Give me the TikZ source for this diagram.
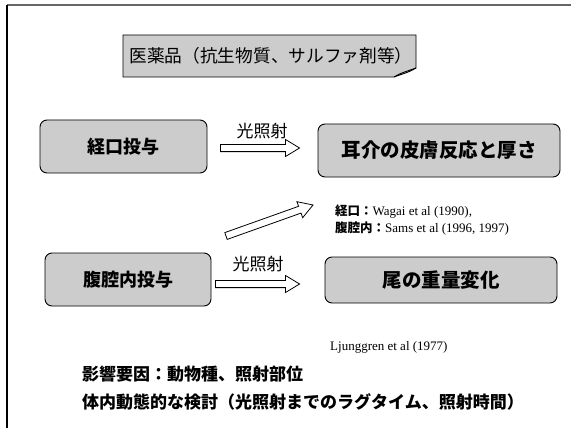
\documentclass[tikz,border=0pt]{standalone}
\usepackage{fontspec}
\setmainfont{Liberation Serif}
\newfontfamily\jp{Noto Sans CJK JP}
\usetikzlibrary{calc}
\newcommand{\blockarrow}[2]{%
  \draw[barrow] ($(#1)!3.6pt!90:(#2)$)
    -- ($($(#2)!14pt!(#1)$)!3.6pt!-90:(#1)$)
    -- ($($(#2)!14pt!(#1)$)!8.5pt!-90:(#1)$)
    -- (#2)
    -- ($($(#2)!14pt!(#1)$)!8.5pt!90:(#1)$)
    -- ($($(#2)!14pt!(#1)$)!3.6pt!90:(#1)$)
    -- ($(#1)!3.6pt!-90:(#2)$) -- cycle;}
\begin{document}
\begin{tikzpicture}[x=1pt,y=-1pt,
  box/.style={draw, rounded corners=7pt, fill=black!20, line width=0.9pt, inner sep=0pt},
  boxtxt/.style={font=\jp\bfseries\fontsize{18}{20}\selectfont},
  barrow/.style={draw, fill=white, line width=0.8pt, line join=miter},
  lbl/.style={font=\jp\fontsize{17}{19}\selectfont},
  ref/.style={anchor=west, inner sep=0pt, font=\fontsize{13}{15}\selectfont},
  note/.style={anchor=west, inner sep=0pt, font=\jp\bfseries\fontsize{17}{19}\selectfont}]
\useasboundingbox (0,0) rectangle (571,428);
\fill[white] (0,0) rectangle (571,428);
% frame
\draw[black!60, line width=1.5pt] (7,5) -- (571,5);
\draw[black, line width=2pt] (7,5) -- (7,428);
% title
\filldraw[fill=black!20, line width=0.9pt] (123,35) -- (416,35) -- (416,68)
  .. controls (410,72) and (402,74) .. (394,77) -- (123,77) -- cycle;
\draw[line width=0.9pt] (394,77) .. controls (400,73) and (408,71) .. (416,68);
\node[lbl, font=\jp\fontsize{17.7}{19}\selectfont, inner sep=0pt] (title) at (271,56) {医薬品（抗生物質、サルファ剤等）};
% boxes
\node[box, boxtxt, minimum width=167pt, minimum height=53pt] (oral) at (123.5,146.5) {経口投与};
\node[box, boxtxt, minimum width=166pt, minimum height=53pt] (ip) at (128,279.5) {腹腔内投与};
\node[box, boxtxt, font=\jp\bfseries\fontsize{19.5}{21}\selectfont, minimum width=242pt, minimum height=53pt] (ear) at (439,150.5) {耳介の皮膚反応と厚さ};
\node[box, boxtxt, font=\jp\bfseries\fontsize{19.5}{21}\selectfont, minimum width=232pt, minimum height=46pt] (tail) at (441,280) {尾の重量変化};
% arrows
\coordinate (a1s) at ($(oral.east)+(13,1.5)$);
\coordinate (a1e) at ($(ear.west)+(-18,-2.5)$);
\coordinate (a2s) at (226,236);
\coordinate (a2e) at (313,205);
\coordinate (a3s) at ($(ip.east)+(4,4.5)$);
\coordinate (a3e) at ($(tail.west)+(-25,4)$);
\blockarrow{a1s}{a1e}
\blockarrow{a2s}{a2e}
\blockarrow{a3s}{a3e}
\node[lbl] (l1) at (262,131) {光照射};
\node[lbl] (l2) at (258,264) {光照射};
% references
\node[ref] (r1) at (335,212) {{\jp\bfseries\fontsize{12.5}{15}\selectfont 経口：}Wagai et al (1990),};
\node[ref] (r2) at (335,229) {{\jp\bfseries\fontsize{12.5}{15}\selectfont 腹腔内：}Sams et al (1996, 1997)};
\node[ref] (r3) at (330,347) {Ljunggren et al (1977)};
% notes
\node[note] (n1) at (82,374) {影響要因：動物種、照射部位};
\node[note] (n2) at (82,402) {体内動態的な検討（光照射までのラグタイム、照射時間）};
\end{tikzpicture}
\end{document}
